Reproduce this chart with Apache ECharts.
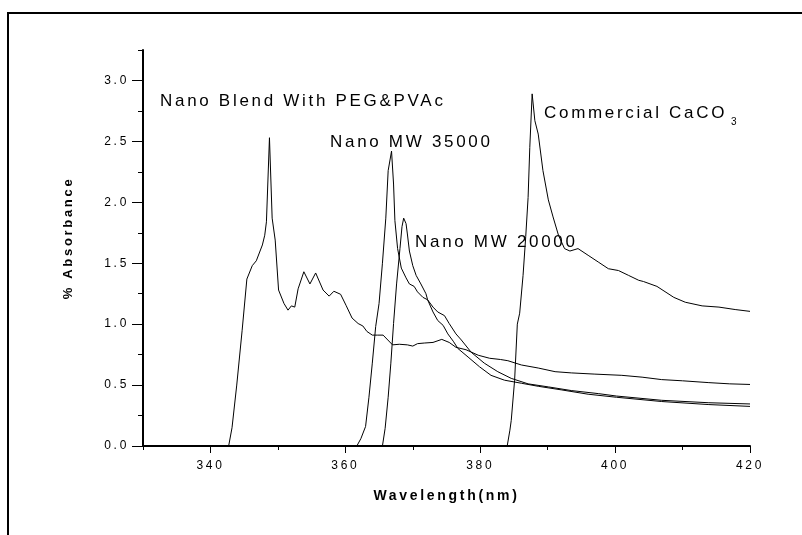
<!DOCTYPE html>
<html>
<head>
<meta charset="utf-8">
<script src="https://cdn.jsdelivr.net/npm/echarts@6/dist/echarts.min.js"></script>
<style>
  html, body { margin: 0; padding: 0; background: #fff; }
  #chart { width: 802px; height: 535px; }
</style>
</head>
<body>
<div id="chart"></div>
<script>
// tick labels
const xTicks = [340, 360, 380, 400, 420]
const yTicks = [0, 0.5, 1, 1.5, 2, 2.5, 3]

// Nano Blend With PEG&PVAc
const blendNm = [342.7, 343.2, 343.9, 344.7, 345.4, 346.2, 346.8, 347.7, 348.05, 348.3, 348.75, 349.15, 349.6, 350.1, 350.9, 351.5, 352.0, 352.5, 353.0, 353.85, 354.75, 355.6, 356.7, 357.6, 358.3, 359.3, 360.1, 361.0, 361.9, 362.6, 363.2, 364.0, 364.8, 365.6, 366.3, 367.0, 368.0, 369.2, 370.0, 370.7, 371.7, 373.0, 374.3, 375.4, 376.4, 377.9, 379.7, 381.4, 383.0, 384.1, 386.1, 388.6, 391.1, 393.5, 397.0, 401.0, 404.0, 406.9, 410.0, 413.9, 417.0, 420.0]
const blendAbs = [0.00, 0.15, 0.50, 0.95, 1.37, 1.48, 1.52, 1.65, 1.73, 1.84, 2.53, 1.87, 1.69, 1.28, 1.17, 1.115, 1.15, 1.14, 1.29, 1.43, 1.33, 1.42, 1.28, 1.23, 1.27, 1.245, 1.155, 1.05, 1.005, 0.985, 0.94, 0.91, 0.91, 0.91, 0.87, 0.83, 0.835, 0.83, 0.82, 0.84, 0.845, 0.85, 0.875, 0.85, 0.81, 0.79, 0.745, 0.72, 0.71, 0.70, 0.665, 0.64, 0.61, 0.60, 0.59, 0.58, 0.565, 0.545, 0.535, 0.52, 0.51, 0.505]

// Nano MW 35000
const mw35000Nm = [361.7, 362.3, 363.0, 363.5, 364.0, 364.5, 365.0, 365.5, 366.0, 366.35, 366.85, 367.15, 367.35, 367.75, 368.3, 369.0, 369.5, 370.2, 370.7, 371.5, 372.2, 373.0, 373.7, 374.7, 375.4, 376.4, 377.2, 378.65, 380.6, 382.6, 384.6, 387.1, 390.1, 393.5, 397.5, 400.2, 406.9, 413.9, 420.0]
const mw35000Abs = [0.00, 0.06, 0.16, 0.40, 0.68, 0.98, 1.17, 1.50, 1.87, 2.26, 2.42, 2.15, 1.85, 1.62, 1.46, 1.38, 1.33, 1.31, 1.265, 1.22, 1.20, 1.14, 1.10, 1.07, 1.005, 0.92, 0.87, 0.77, 0.68, 0.61, 0.555, 0.51, 0.485, 0.455, 0.43, 0.41, 0.375, 0.355, 0.345]

// Nano MW 20000
const mw20000Nm = [365.5, 365.9, 366.35, 366.75, 367.15, 367.6, 368.1, 368.4, 368.65, 369.0, 369.2, 369.5, 370.0, 370.5, 371.2, 371.95, 372.2, 373.0, 373.7, 374.5, 375.2, 376.0, 376.7, 378.2, 379.9, 381.6, 383.6, 386.1, 388.6, 392.1, 396.0, 400.2, 406.9, 413.9, 420.0]
const mw20000Abs = [0.00, 0.145, 0.40, 0.68, 1.005, 1.33, 1.62, 1.80, 1.87, 1.825, 1.74, 1.60, 1.48, 1.40, 1.33, 1.25, 1.20, 1.10, 1.03, 0.99, 0.92, 0.86, 0.80, 0.73, 0.65, 0.58, 0.54, 0.515, 0.49, 0.46, 0.425, 0.40, 0.365, 0.34, 0.325]

// Commercial CaCO3
const caco3Nm = [384.0, 384.4, 384.6, 385.1, 385.5, 385.85, 386.35, 386.75, 387.1, 387.35, 387.7, 388.1, 388.6, 389.3, 390.1, 390.8, 391.6, 392.5, 393.3, 394.5, 396.0, 397.5, 399.0, 400.5, 402.0, 403.5, 404.2, 406.2, 408.7, 410.4, 412.9, 415.4, 417.8, 420.0]
const caco3Abs = [0.00, 0.13, 0.21, 0.54, 1.00, 1.09, 1.40, 1.72, 2.04, 2.45, 2.89, 2.67, 2.56, 2.26, 2.02, 1.88, 1.73, 1.62, 1.60, 1.62, 1.565, 1.51, 1.455, 1.44, 1.40, 1.36, 1.35, 1.31, 1.22, 1.18, 1.15, 1.14, 1.12, 1.105]

const FONT = 'Liberation Sans'
const pairs = (xs, ys) => xs.map((x, i) => [x, ys[i]])

function curve(name, xs, ys) {
  return {
    name,
    type: 'line',
    data: pairs(xs, ys),
    symbol: 'none',
    smooth: false,
    lineStyle: { color: '#000', width: 1 },
    silent: true
  }
}

function label(text, x, y, size) {
  return {
    type: 'text',
    x,
    y,
    silent: true,
    style: {
      text,
      fill: '#000',
      font: size + 'px "' + FONT + '"',
      align: 'left',
      verticalAlign: 'middle'
    }
  }
}

const chart = echarts.init(document.getElementById('chart'), null, { renderer: 'canvas' })

chart.setOption({
  animation: false,
  backgroundColor: '#fff',
  textStyle: { fontFamily: FONT },
  grid: { left: 143, right: 52, top: 50, bottom: 89 },
  xAxis: [
    {
      type: 'value',
      min: 330,
      max: 420,
      interval: 10,
      position: 'bottom',
      name: 'Wavelength(nm)',
      nameLocation: 'middle',
      nameGap: 43,
      nameTextStyle: { color: '#000', fontSize: 14, fontWeight: 'bold', fontFamily: FONT },
      axisLine: { show: true, onZero: false, lineStyle: { color: '#000', width: 2 } },
      axisTick: { show: true, length: 4, lineStyle: { color: '#000', width: 1 } },
      axisLabel: { customValues: xTicks, color: '#000', fontSize: 12, margin: 14, fontFamily: FONT },
      splitLine: { show: false }
    },
    {
      // longer ticks at labelled positions
      type: 'value',
      min: 330,
      max: 420,
      interval: 10,
      position: 'bottom',
      axisLine: { show: false },
      axisTick: { show: true, customValues: xTicks, length: 7, lineStyle: { color: '#000', width: 1 } },
      axisLabel: { show: false },
      splitLine: { show: false }
    }
  ],
  yAxis: [
    {
      type: 'value',
      min: 0,
      max: 3.25,
      interval: 0.25,
      position: 'left',
      name: '% Absorbance',
      nameLocation: 'middle',
      nameRotate: 90,
      nameGap: 68,
      nameTextStyle: { color: '#000', fontSize: 13, fontWeight: 'bold', fontFamily: FONT, padding: [0, 0, 0, 20] },
      axisLine: { show: true, onZero: false, lineStyle: { color: '#000', width: 2 } },
      axisTick: { show: true, length: 5, lineStyle: { color: '#000', width: 1 } },
      axisLabel: {
        customValues: yTicks,
        formatter: v => v.toFixed(1),
        color: '#000',
        fontSize: 12,
        margin: 14,
        fontFamily: FONT
      },
      splitLine: { show: false }
    },
    {
      type: 'value',
      min: 0,
      max: 3.25,
      interval: 0.25,
      position: 'left',
      axisLine: { show: false },
      axisTick: { show: true, customValues: yTicks, length: 11, lineStyle: { color: '#000', width: 1 } },
      axisLabel: { show: false },
      splitLine: { show: false }
    }
  ],
  graphic: [
    {
      type: 'rect',
      silent: true,
      shape: { x: 8, y: 13, width: 830, height: 560 },
      style: { fill: 'none', stroke: '#000', lineWidth: 2 }
    },
    label('Nano Blend With PEG&PVAc', 160, 101, 17),
    label('Nano MW 35000', 330, 142, 17),
    label('Nano MW 20000', 415, 242, 17),
    label('Commercial CaCO', 544, 113, 17),
    label('3', 731, 122, 10)
  ],
  series: [
    curve('Nano Blend With PEG&PVAc', blendNm, blendAbs),
    curve('Nano MW 35000', mw35000Nm, mw35000Abs),
    curve('Nano MW 20000', mw20000Nm, mw20000Abs),
    curve('Commercial CaCO3', caco3Nm, caco3Abs)
  ]
})

// the original plot uses spaced-out lettering everywhere
const ctx = chart.getDom().querySelector('canvas').getContext('2d')
ctx.letterSpacing = '2.7px'
chart.getZr().painter.refresh(true)
</script>
</body>
</html>
